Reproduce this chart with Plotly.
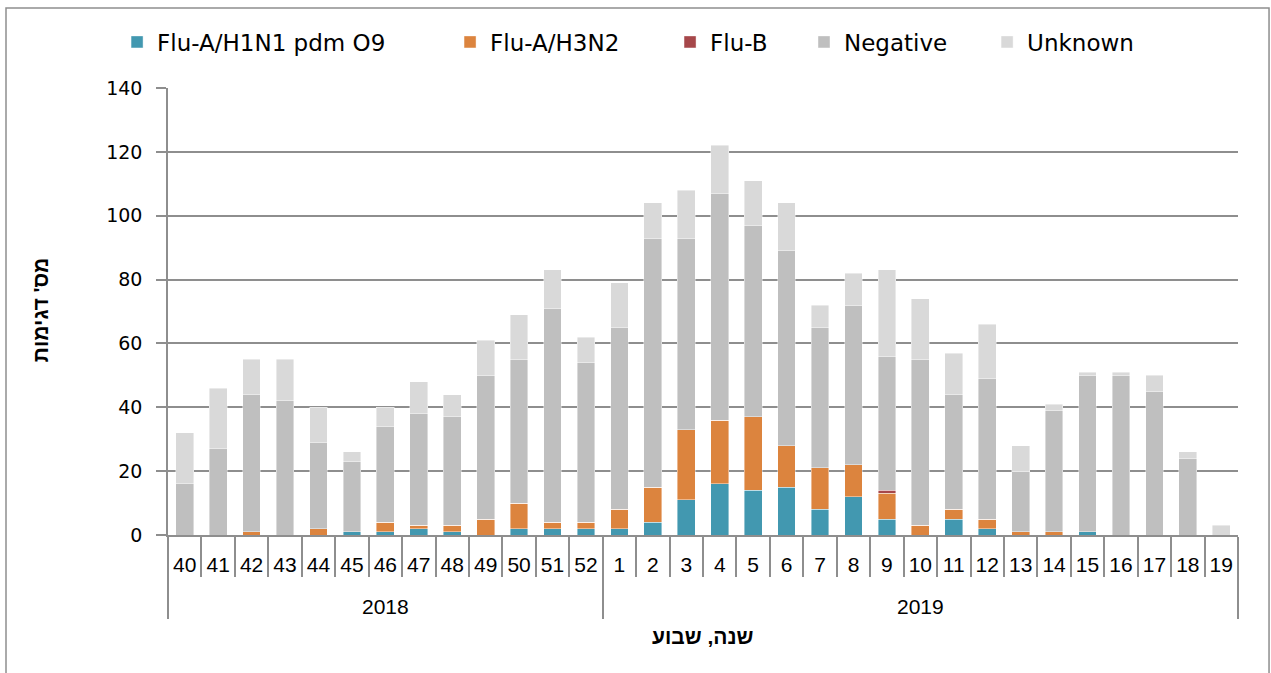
import plotly.graph_objects as go

years = ["2018"] * 13 + ["2019"] * 19
weeks = ["40", "41", "42", "43", "44", "45", "46", "47", "48", "49", "50", "51", "52",
         "1", "2", "3", "4", "5", "6", "7", "8", "9", "10", "11", "12", "13", "14",
         "15", "16", "17", "18", "19"]

h1n1 = [0, 0, 0, 0, 0, 1, 1, 2, 1, 0, 2, 2, 2,
        2, 4, 11, 16, 14, 15, 8, 12, 5, 0, 5, 2, 0, 0, 1, 0, 0, 0, 0]
h3n2 = [0, 0, 1, 0, 2, 0, 3, 1, 2, 5, 8, 2, 2,
        6, 11, 22, 20, 23, 13, 13, 10, 8, 3, 3, 3, 1, 1, 0, 0, 0, 0, 0]
flub = [0] * 13 + [0, 0, 0, 0, 0, 0, 0, 0, 1, 0, 0, 0, 0, 0, 0, 0, 0, 0, 0]
negative = [16, 27, 43, 42, 27, 22, 30, 35, 34, 45, 45, 67, 50,
            57, 78, 60, 71, 60, 61, 44, 50, 42, 52, 36, 44, 19, 38, 49, 50, 45, 24, 0]
unknown = [16, 19, 11, 13, 11, 3, 6, 10, 7, 11, 14, 12, 8,
           14, 11, 15, 15, 14, 15, 7, 10, 27, 19, 13, 17, 8, 2, 1, 1, 5, 2, 3]

series_names = ["Flu-A/H1N1 pdm O9", "Flu-A/H3N2", "Flu-B", "Negative", "Unknown"]
series_values = [h1n1, h3n2, flub, negative, unknown]
series_colors = ["#4298B0", "#DC843E", "#A6474A", "#BFBFBF", "#D9D9D9"]
legend_x = [-0.0476, 0.2636, 0.4692, 0.5944, 0.7655]

y_ticks = [0, 20, 40, 60, 80, 100, 120, 140]

year_labels = ["<br>" + y for y in years]

fig = go.Figure()
for i, (name, vals, col) in enumerate(zip(series_names, series_values, series_colors)):
    fig.add_trace(go.Bar(
        x=[year_labels, weeks], y=vals, name=name,
        legend="legend" if i == 0 else f"legend{i + 1}",
        marker=dict(color=col, line=dict(width=0.6, color="rgba(255,255,255,0.7)")),
    ))

grid_col = "#8E8E8E"
legends = {}
for i, lx in enumerate(legend_x):
    key = "legend" if i == 0 else f"legend{i + 1}"
    legends[key] = dict(orientation="h", x=lx, xanchor="left", y=1.103, yanchor="middle",
                        font=dict(family="DejaVu Sans", size=23), itemwidth=30,
                        bgcolor="rgba(0,0,0,0)")

fig.update_layout(
    width=1271, height=673,
    barmode="stack", bargap=0.47,
    plot_bgcolor="white", paper_bgcolor="white",
    margin=dict(l=168, r=33, t=88, b=138, autoexpand=False),
    font=dict(family="DejaVu Sans", size=19, color="black"),
    showlegend=True,
    **legends,
)
fig.update_yaxes(
    range=[0, 140], tickvals=y_ticks, showgrid=True, gridcolor=grid_col, gridwidth=1.5,
    showline=True, linecolor=grid_col, linewidth=1.5,
    ticks="outside", ticklen=10, tickcolor=grid_col, tickwidth=1.5,
    tickfont=dict(family="DejaVu Sans", size=19), zeroline=False, ticklabelstandoff=10,
)
fig.update_xaxes(
    type="multicategory", showline=True, linecolor=grid_col, linewidth=1.5,
    ticks="outside", tickson="boundaries", ticklen=40, tickcolor=grid_col, tickwidth=1.5,
    showdividers=True, dividercolor=grid_col, dividerwidth=1.5,
    tickfont=dict(family="Liberation Sans", size=21), tickangle=0, showgrid=False,
    ticklabelstandoff=10,
)

fig.add_annotation(text="<b>שנה, שבוע</b>", xref="paper", yref="paper", x=0.5, y=-0.228,
                   xanchor="center", yanchor="middle",
                   showarrow=False, font=dict(family="Liberation Sans, DejaVu Sans", size=21))
fig.add_annotation(text="<b>מס' דגימות</b>", xref="paper", yref="paper", x=-0.1196, y=0.503,
                   xanchor="center", yanchor="middle",
                   textangle=-90, showarrow=False,
                   font=dict(family="Liberation Sans, DejaVu Sans", size=21))

fig.add_shape(type="rect", xref="paper", yref="paper", x0=-0.1514, x1=1.029, y0=-0.33, y1=1.179,
              line=dict(color=grid_col, width=1.5), fillcolor="rgba(0,0,0,0)", layer="below")

fig.write_html("out.html", config={"displayModeBar": False},
               post_script="document.body.style.margin='0';")
